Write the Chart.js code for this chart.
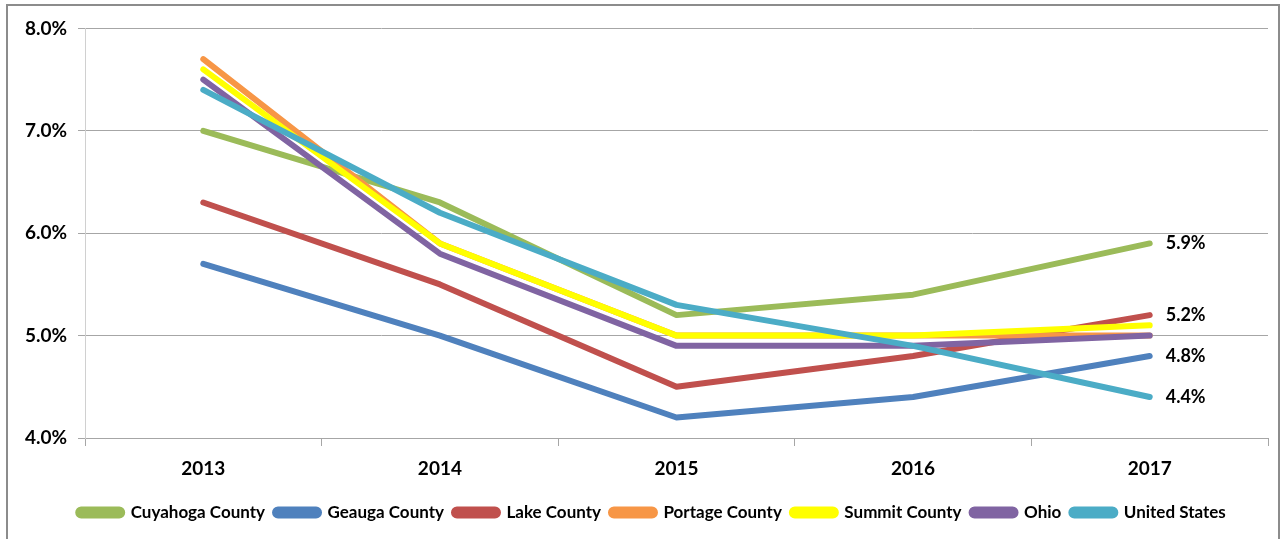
<!DOCTYPE html>
<html>
<head>
<meta charset="utf-8">
<script src="https://cdn.jsdelivr.net/npm/chart.js@4"></script>
<style>
  html, body { margin: 0; padding: 0; background: #fff; }
  #frame {
    position: absolute; left: 6px; top: 4px; width: 1274px; height: 540px;
    border: 2px solid #8c8c8c; border-bottom: none; box-sizing: border-box;
  }
  #wrap { position: absolute; left: 0; top: 0; width: 1272px; height: 538px; }
</style>
</head>
<body>
<div id="frame"><div id="wrap"><canvas id="rates"></canvas></div></div>
<script>
// unemployment rates by year
const years = ['2013', '2014', '2015', '2016', '2017'];
const yTicks = [4.0, 5.0, 6.0, 7.0, 8.0];

const cuyahoga = [7.0, 6.3, 5.2, 5.4, 5.9];
const geauga   = [5.7, 5.0, 4.2, 4.4, 4.8];
const lake     = [6.3, 5.5, 4.5, 4.8, 5.2];
const portage  = [7.7, 5.9, 5.0, 5.0, 5.0];
const summit   = [7.6, 5.9, 5.0, 5.0, 5.1];
const ohio     = [7.5, 5.8, 4.9, 4.9, 5.0];
const usa      = [7.4, 6.2, 5.3, 4.9, 4.4];

// series that get a value label at the last year
const labelled = ['Cuyahoga County', 'Geauga County', 'Lake County', 'United States'];

const series = [
  { label: 'Cuyahoga County', data: cuyahoga, color: '#9BBB59' },
  { label: 'Geauga County',   data: geauga,   color: '#4F81BD' },
  { label: 'Lake County',     data: lake,     color: '#C0504D' },
  { label: 'Portage County',  data: portage,  color: '#F79646' },
  { label: 'Summit County',   data: summit,   color: '#FFFF00' },
  { label: 'Ohio',            data: ohio,     color: '#8064A2' },
  { label: 'United States',   data: usa,      color: '#4BACC6' }
];

const FONT = 'Lato, "Open Sans", sans-serif';

const endLabels = {
  id: 'endLabels',
  afterDatasetsDraw(chart) {
    const ctx = chart.ctx;
    ctx.save();
    ctx.font = 'bold 18px ' + FONT;
    ctx.fillStyle = '#000';
    ctx.textAlign = 'left';
    ctx.textBaseline = 'middle';
    chart.data.datasets.forEach((ds, i) => {
      if (!labelled.includes(ds.label)) return;
      const pts = chart.getDatasetMeta(i).data;
      const last = pts[pts.length - 1];
      const v = ds.data[ds.data.length - 1];
      ctx.fillText(v.toFixed(1) + '%', last.x + 16, last.y);
    });
    ctx.restore();
  }
};

// legend sits a bit right of centre in the original
const nudgeLegend = {
  id: 'nudgeLegend',
  afterLayout(chart) {
    chart.legend.left += 14;
    chart.legend.right += 14;
  }
};

new Chart(document.getElementById('rates'), {
  type: 'line',
  data: {
    labels: years,
    // later series sit on top of earlier ones
    datasets: series.map((s, i) => ({
      label: s.label,
      data: s.data,
      order: series.length - i,
      borderColor: s.color,
      backgroundColor: s.color,
      borderWidth: 6,
      borderCapStyle: 'round',
      borderJoinStyle: 'round',
      pointRadius: 0,
      tension: 0
    }))
  },
  options: {
    responsive: true,
    maintainAspectRatio: false,
    animation: false,
    layout: { padding: { top: 20, right: 12, left: 0, bottom: 13 } },
    plugins: {
      tooltip: { enabled: false },
      legend: {
        position: 'bottom',
        labels: {
          color: '#000',
          font: { family: FONT, size: 17, weight: 'bold' },
          boxWidth: 44,
          boxHeight: 6,
          useBorderRadius: true,
          borderRadius: 3,
          padding: 10,
          sort: (a, b) => a.datasetIndex - b.datasetIndex
        }
      }
    },
    scales: {
      x: {
        offset: true,
        afterFit(axis) { axis.height = 56; },
        grid: {
          offset: true,
          drawOnChartArea: false,
          color: '#a6a6a6',
          tickLength: 8
        },
        border: { color: '#a6a6a6' },
        ticks: {
          color: '#000',
          font: { family: FONT, size: 19, weight: 'bold' },
          padding: 11
        }
      },
      y: {
        min: 4,
        max: 8,
        afterBuildTicks(axis) {
          axis.ticks = yTicks.map(v => ({ value: v }));
        },
        afterFit(axis) { axis.width = 77; },
        grid: { color: '#a6a6a6', tickLength: 7 },
        border: { color: '#d0d0d0' },
        ticks: {
          color: '#000',
          font: { family: FONT, size: 19, weight: 'bold' },
          padding: 11,
          callback: v => v.toFixed(1) + '%'
        }
      }
    }
  },
  plugins: [endLabels, nudgeLegend]
});
</script>
</body>
</html>
